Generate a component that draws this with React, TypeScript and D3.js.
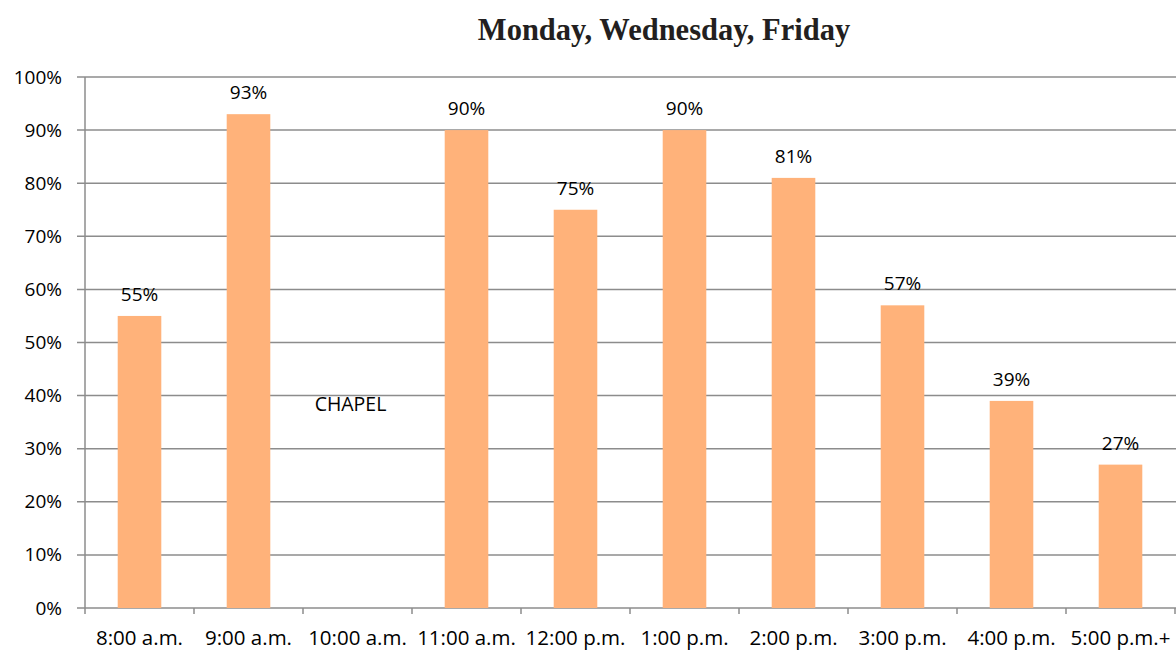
import React from "react";
import * as d3 from "d3";

const categories = ["8:00 a.m.", "9:00 a.m.", "10:00 a.m.", "11:00 a.m.", "12:00 p.m.", "1:00 p.m.", "2:00 p.m.", "3:00 p.m.", "4:00 p.m.", "5:00 p.m.+"];
const values: (number | null)[] = [55, 93, null, 90, 75, 90, 81, 57, 39, 27];
const yTicks = [0, 10, 20, 30, 40, 50, 60, 70, 80, 90, 100];
const title = "Monday, Wednesday, Friday";
const annotation = { category: "10:00 a.m.", value: 38, text: "CHAPEL" };

const W = 1176, H = 650;
const left = 85, right = 1175, top = 77, bottom = 608;
const labelFont = "'Open Sans', 'Noto Sans', sans-serif";
const grid = "#8c8c8c";

export default function App() {
  const x = d3.scaleBand<string>().domain(categories).range([left, right]).paddingInner(0.6).paddingOuter(0.3);
  const xb = d3.scaleBand<string>().domain(categories).range([left, right]);
  const y = d3.scaleLinear().domain([0, 100]).range([bottom, top]);
  return (
    <svg width={W} height={H} style={{ position: "absolute", left: 0, top: 0, background: "#fff" }}>
      <text x={664} y={40} textAnchor="middle" fontFamily="'Liberation Serif', 'DejaVu Serif', serif" fontWeight="bold" fontSize={30.5} fill="#231f20">{title}</text>
      {yTicks.map((t) => (
        <g key={t}>
          <line x1={77} x2={W} y1={y(t)} y2={y(t)} stroke={grid} strokeWidth={1.5} />
          <text x={62} y={y(t) + 6.5} textAnchor="end" fontFamily={labelFont} fontSize={19} fill="#000">{t}%</text>
        </g>
      ))}
      <line x1={left} x2={left} y1={top} y2={bottom + 6} stroke={grid} strokeWidth={1.5} />
      {categories.map((c) => (
        <line key={"t" + c} x1={(xb(c) ?? 0) + xb.bandwidth()} x2={(xb(c) ?? 0) + xb.bandwidth()} y1={bottom} y2={bottom + 6} stroke={grid} strokeWidth={1.5} />
      ))}
      {categories.map((c, i) => {
        const v = values[i];
        const cx = (x(c) ?? 0) + x.bandwidth() / 2;
        return (
          <g key={c}>
            {v !== null && (
              <>
                <rect x={x(c)} y={y(v)} width={x.bandwidth()} height={bottom - y(v)} fill="#ffb27a" />
                <text x={cx} y={y(v) - 15} textAnchor="middle" fontFamily={labelFont} fontSize={19} fill="#000">{v}%</text>
              </>
            )}
            <text x={(xb(c) ?? 0) + xb.bandwidth() / 2} y={645} textAnchor="middle" fontFamily={labelFont} fontSize={20.5} fill="#000">{c}</text>
          </g>
        );
      })}
      <text x={(xb(annotation.category) ?? 0) + xb.bandwidth() / 2 - 7} y={y(annotation.value) + 5} textAnchor="middle" fontFamily={labelFont} fontSize={19.5} fill="#000">{annotation.text}</text>
    </svg>
  );
}
